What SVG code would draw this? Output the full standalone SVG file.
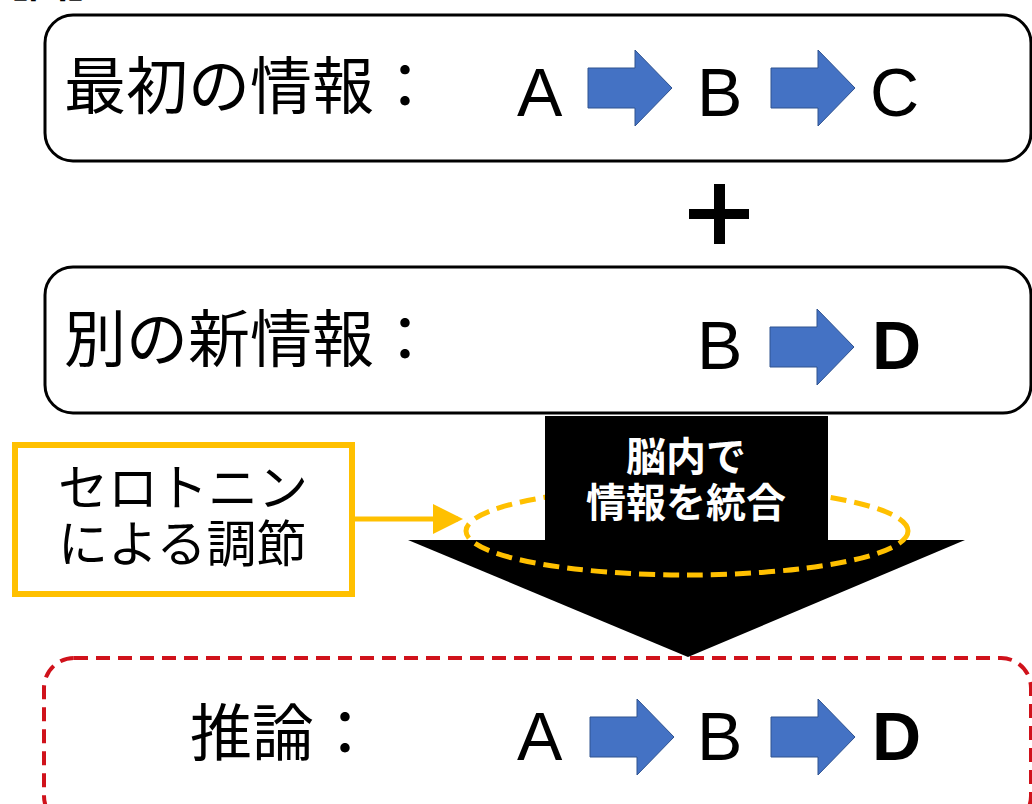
<svg xmlns="http://www.w3.org/2000/svg" width="1032" height="804" viewBox="0 0 1032 804">
<style>
.box{fill:#fff;stroke:#000;stroke-width:3}
.jp{font-family:"Noto Sans CJK JP","Noto Sans",sans-serif;fill:#000}
.lat{font-family:"Liberation Sans",Arial,sans-serif;font-size:68px;fill:#000}
.bold{font-weight:bold}
.wt{font-family:"Noto Sans CJK JP",sans-serif;font-weight:bold;font-size:40px;fill:#fff;text-anchor:middle}
.yel{fill:none;stroke:#FFC000;stroke-width:5}
</style>
<defs>
<path id="barrow" d="M0,-20 H47 V-38 L84,0 L47,38 V20 H0 Z" fill="#4472C4" stroke="#2F528F" stroke-width="1"/>
<marker id="yhead" markerWidth="6" markerHeight="6" refX="5" refY="3" orient="auto" markerUnits="strokeWidth">
<path d="M0,0 L6,3 L0,6 Z" fill="#FFC000"/>
</marker>
</defs>
<rect width="1032" height="804" fill="#fff"/>
<text class="jp" x="-12" y="-3" font-size="40" font-weight="bold">【図】</text>

<g id="node-initial">
<rect class="box" x="45" y="15" width="986" height="146" rx="28"/>
<text class="jp" x="64" y="109" font-size="62">最初の情報：</text>
<text class="lat" x="517" y="116">A</text>
<use href="#barrow" x="588" y="88"/>
<text class="lat" x="697" y="116">B</text>
<use href="#barrow" x="771" y="88"/>
<text class="lat" x="870" y="116">C</text>
</g>

<g id="plus">
<rect x="689" y="209" width="60" height="10" fill="#000"/>
<rect x="714" y="184" width="11" height="60" fill="#000"/>
</g>

<g id="node-new">
<rect class="box" x="45" y="267" width="986" height="146" rx="28"/>
<text class="jp" x="64" y="362" font-size="62">別の新情報：</text>
<text class="lat" x="697" y="369">B</text>
<use href="#barrow" x="770" y="347"/>
<text class="lat bold" x="872" y="369">D</text>
</g>

<g id="node-integrate">
<polygon points="408,540 965,540 688,657" fill="#000"/>
<ellipse class="yel" cx="687" cy="531" rx="221" ry="44" stroke-dasharray="16 8"/>
<rect x="545" y="416" width="283" height="125" fill="#000"/>
<text class="wt" x="686" y="471">脳内で</text>
<text class="wt" x="686" y="517">情報を統合</text>
</g>

<g id="node-serotonin">
<rect x="15" y="445" width="337" height="149" fill="#fff" stroke="#FFC000" stroke-width="6"/>
<text class="jp" x="58" y="506" font-size="50">セロトニン</text>
<text class="jp" x="58" y="562" font-size="50">による調節</text>
</g>

<g id="node-inference">
<rect x="44" y="658" width="987" height="168" rx="30" fill="none" stroke="#D0121B" stroke-width="4" stroke-dasharray="14 8"/>
<text class="jp" x="190" y="756" font-size="62">推論：</text>
<text class="lat" x="517" y="760">A</text>
<use href="#barrow" x="590" y="737"/>
<text class="lat" x="697" y="760">B</text>
<use href="#barrow" x="771" y="737"/>
<text class="lat bold" x="872" y="760">D</text>
</g>

<g id="connectors">
<line x1="352" y1="519" x2="458" y2="519" stroke="#FFC000" stroke-width="5" marker-end="url(#yhead)"/>
</g>
</svg>
